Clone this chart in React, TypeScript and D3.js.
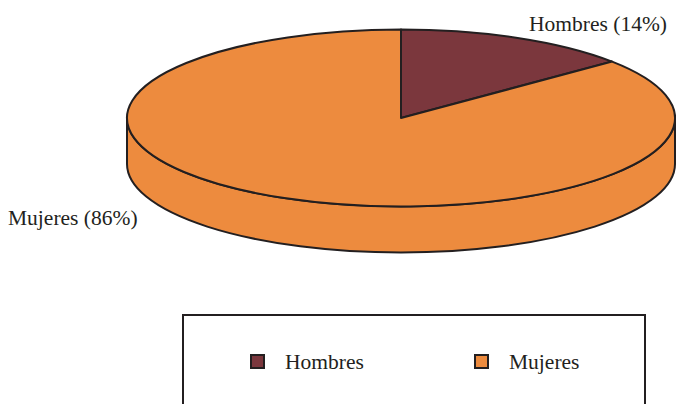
import { useMemo } from 'react';
import * as d3 from 'd3';

const categories = ['Hombres', 'Mujeres'];
const shares = [14, 86];
const colors = ['#7b373d', '#ed8b3e'];

const W = 676;
const H = 404;
const STROKE = '#231f20';

export default function App() {
  const cx = 401;
  const cy = 118;
  const rx = 274;
  const ry = 88.5;
  const depth = 46;

  const arcs = useMemo(
    () =>
      d3
        .pie<number>()
        .sort(null)
        .value((d) => d)(shares),
    []
  );

  const pt = (a: number, dy = 0): [number, number] => [cx + rx * Math.sin(a), cy - ry * Math.cos(a) + dy];

  const topPath = (a0: number, a1: number) => {
    const [x0, y0] = pt(a0);
    const [x1, y1] = pt(a1);
    const large = a1 - a0 > Math.PI ? 1 : 0;
    return `M${cx},${cy}L${x0},${y0}A${rx},${ry} 0 ${large} 1 ${x1},${y1}Z`;
  };

  // front wall only where the slice faces the viewer (angles between PI/2 and 3PI/2)
  const sidePath = (a0: number, a1: number) => {
    const s = Math.max(a0, Math.PI / 2);
    const e = Math.min(a1, (3 * Math.PI) / 2);
    if (e <= s) return null;
    const [x0, y0] = pt(s);
    const [x1, y1] = pt(e);
    const large = e - s > Math.PI ? 1 : 0;
    return (
      `M${x0},${y0}A${rx},${ry} 0 ${large} 1 ${x1},${y1}` +
      `L${x1},${y1 + depth}A${rx},${ry} 0 ${large} 0 ${x0},${y0 + depth}Z`
    );
  };

  const textStyle = { fontFamily: '"Liberation Serif"', fontSize: '21.5px' };

  return (
    <>
      <style>{`body{margin:0}`}</style>
      <svg width={W} height={H} style={{ display: 'block', background: '#fff' }}>
        <g>
          {arcs.map((a, i) => {
            const d = sidePath(a.startAngle, a.endAngle);
            return d ? (
              <path key={'s' + i} d={d} fill={colors[i]} stroke={STROKE} strokeWidth={2} strokeLinejoin="round" />
            ) : null;
          })}
          {arcs.map((a, i) => (
            <path
              key={'t' + i}
              d={topPath(a.startAngle, a.endAngle)}
              fill={colors[i]}
              stroke={STROKE}
              strokeWidth={2}
              strokeLinejoin="round"
            />
          ))}
        </g>

        <text x={667} y={31} textAnchor="end" style={textStyle} fill="#231f20">
          {`${categories[0]} (${shares[0]}%)`}
        </text>
        <text x={8} y={225} style={textStyle} fill="#231f20">
          {`${categories[1]} (${shares[1]}%)`}
        </text>

        <g>
          <rect x={183} y={315} width={462} height={120} fill="#fff" stroke={STROKE} strokeWidth={2} />
          {categories.map((c, i) => {
            const x = 251 + i * 224;
            return (
              <g key={c}>
                <rect x={x} y={355} width={13} height={13} fill={colors[i]} stroke={STROKE} strokeWidth={2} />
                <text x={x + 34} y={369} style={textStyle} fill="#231f20">
                  {c}
                </text>
              </g>
            );
          })}
        </g>
      </svg>
    </>
  );
}
